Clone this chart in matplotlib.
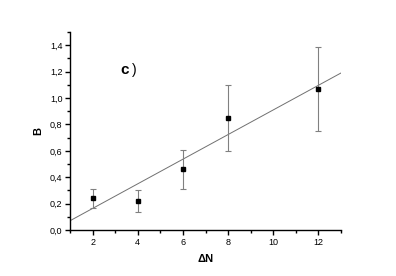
import matplotlib
matplotlib.use("Agg")
import matplotlib.pyplot as plt
from matplotlib.ticker import MultipleLocator, FuncFormatter

x = [2, 4, 6, 8, 12]
y = [0.24, 0.22, 0.46, 0.85, 1.07]
yerr = [0.07, 0.08, 0.15, 0.25, 0.32]
fit_x = [1, 13]
slope = 0.0933
intercept = -0.023

plt.rcParams['font.family'] = ['Liberation Sans', 'DejaVu Sans']
fig = plt.figure(figsize=(3.96, 2.76), dpi=100)
ax = fig.add_axes([0.177, 0.1667, 0.684, 0.717])

ax.plot(fit_x, [slope * v + intercept for v in fit_x], color='#707070', lw=0.7)
ax.errorbar(x, y, yerr=yerr, fmt='none', ecolor='#808080', elinewidth=0.8, capsize=2.5, capthick=0.8)
ax.plot(x, y, 's', color='black', markersize=3.5)

ax.set_xlim(1, 13)
ax.set_ylim(0, 1.5)
ax.xaxis.set_major_locator(MultipleLocator(2))
ax.xaxis.set_minor_locator(MultipleLocator(1))
ax.yaxis.set_major_locator(MultipleLocator(0.2))
ax.yaxis.set_minor_locator(MultipleLocator(0.1))
ax.yaxis.set_major_formatter(FuncFormatter(lambda v, p: f"{v:.1f}".replace('.', ',')))
ax.xaxis.set_major_formatter(FuncFormatter(lambda v, p: f"{v:.0f}"))

for s in ['top', 'right']:
    ax.spines[s].set_visible(False)
for s in ['left', 'bottom']:
    ax.spines[s].set_linewidth(1.0)
ax.tick_params(which='major', direction='out', length=3.5, width=1.0, labelsize=6.5, pad=2)
ax.tick_params(which='minor', direction='out', length=2, width=1.0)

ax.set_xlabel('ΔN', fontsize=8, fontweight='bold', labelpad=5)
ax.set_ylabel('B', fontsize=8, fontweight='bold', labelpad=5)
ax.text(0.185, 0.79, 'c', transform=ax.transAxes, fontsize=11, fontweight='bold')
ax.text(0.23, 0.79, ')', transform=ax.transAxes, fontsize=10)

fig.savefig('out.png', dpi=100)
